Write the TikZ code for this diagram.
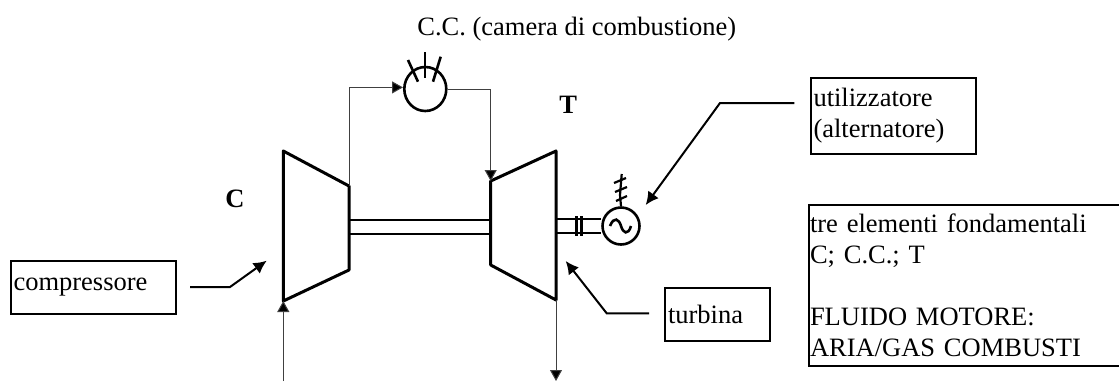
\documentclass[tikz,border=0pt]{standalone}
\usepackage{fontspec}
\setmainfont{Liberation Serif}
\usetikzlibrary{arrows.meta,shapes.geometric}

\tikzset{
    txt/.style={font=\fontsize{13.25}{15.5}\selectfont, inner sep=0pt},
    labelbox/.style={txt, draw, line width=1pt, align=left, anchor=north west, inner xsep=1.5pt, inner ysep=2pt},
    machine/.style={line width=1.5pt, line join=round},
    pipe/.style={draw=black!75, line width=0.5pt},
    flowtip/.style={-{Triangle[length=5.5pt,width=6pt,fill=black]}},
    leader/.style={line width=1pt, -{Latex[length=6.5pt,width=6.5pt]}},
    shaft/.style={line width=1.3pt},
    symbol/.style={line width=1.3pt}
}

\begin{document}
\begin{tikzpicture}[x=0.5pt, y=-0.5pt]
    \useasboundingbox (0,0) rectangle (1119,381);

    % compressor and turbine outlines
    \coordinate (ctl) at (283.3,151);
    \coordinate (ctr) at (349,186);
    \coordinate (cbr) at (349,270);
    \coordinate (cbl) at (283.3,301);
    \coordinate (ttl) at (490.7,181);
    \coordinate (ttr) at (556,151);
    \coordinate (tbr) at (556,300);
    \coordinate (tbl) at (490.7,265);
    \draw[machine] (ctl) -- (ctr) -- (cbr) -- (cbl) -- cycle;
    \draw[machine] (ttl) -- (ttr) -- (tbr) -- (tbl) -- cycle;

    % combustion chamber and generator
    \node[ellipse, draw, symbol, minimum width=21pt, minimum height=22pt, inner sep=0pt] (camera) at (425.3,89) {};
    \node[circle, draw, symbol, minimum size=18.5pt, inner sep=0pt] (gen) at (621,226) {};

    % burners
    \draw[symbol] (425,52) -- (425,78);
    \draw[symbol] (408,60) -- (418,81.7);
    \draw[symbol] (440.7,56.7) -- (433,81.7);

    % shafts
    \draw[shaft] (349,220) -- (490.7,220);
    \draw[shaft] (349,234) -- (490.7,234);
    \draw[shaft] (556,219) -- (gen.west |- 556,219);
    \draw[shaft] (556,233) -- (gen.west |- 556,233);
    \draw[shaft] (576.7,216) -- (576.7,236);
    \draw[shaft] (581.7,216) -- (581.7,236);

    % generator symbols
    \draw[symbol] (610,226) .. controls (614,216) and (619,219) .. (621,226) .. controls (623,233) and (628,236) .. (631,226);
    \draw[line width=1.1pt] (gen.north) -- (620,195) -- (621.7,174);
    \draw[line width=1.1pt] (614,183) -- (626,178);
    \draw[line width=1.1pt] (615,192) -- (627,187);
    \draw[line width=1.1pt] (616,201) -- (627,196);

    % flow lines
    \draw[pipe, flowtip] (ctr) |- ([yshift=0.8pt]camera.west);
    \draw[pipe, flowtip] (camera.east) -| (ttl);
    \coordinate (aria) at (283.3,381);
    \coordinate (scarico) at (556,381);
    \draw[pipe, flowtip] (aria) -- (cbl);
    \draw[pipe, flowtip] (tbr) -- (scarico);

    % labels
    \node[txt, anchor=base west] (cc) at (417,35) {C.C. (camera di combustione)};
    \node[txt, anchor=base west, font=\fontsize{13.25}{15.5}\selectfont\bfseries] (clabel) at (225,207) {C};
    \node[txt, anchor=base west, font=\fontsize{13.25}{15.5}\selectfont\bfseries] (tlabel) at (559,113) {T};

    \node[labelbox, text width=79.5pt, minimum height=26.5pt] (compressore) at (9.5,260) {compressore};
    \node[labelbox, text width=49.5pt, minimum height=26.5pt] (turbina) at (664,287) {turbina};
    \node[labelbox, text width=79.5pt, minimum height=38pt] (utilizzatore) at (809.5,77) {utilizzatore\\(alternatore)};
    \node[labelbox, inner xsep=0.5pt, text width=160pt, minimum height=80.5pt] (elementi) at (808,204) {tre elementi fondamentali\\C; C.C.; T\\[15.5pt]FLUIDO MOTORE:\\ARIA/GAS COMBUSTI};

    % leaders
    \coordinate (lc1) at (190,287);
    \coordinate (lc2) at (230,287);
    \coordinate (lc3) at (266.7,260.7);
    \draw[leader] (lc1) -- (lc2) -- (lc3);
    \coordinate (lt1) at (649,313.3);
    \coordinate (lt2) at (606.7,313.3);
    \coordinate (lt3) at (565.7,261);
    \draw[leader] (lt1) -- (lt2) -- (lt3);
    \coordinate (lu1) at (794.3,103);
    \coordinate (lu2) at (720,103);
    \coordinate (lu3) at (645.7,205);
    \draw[leader] (lu1) -- (lu2) -- (lu3);
\end{tikzpicture}
\end{document}
